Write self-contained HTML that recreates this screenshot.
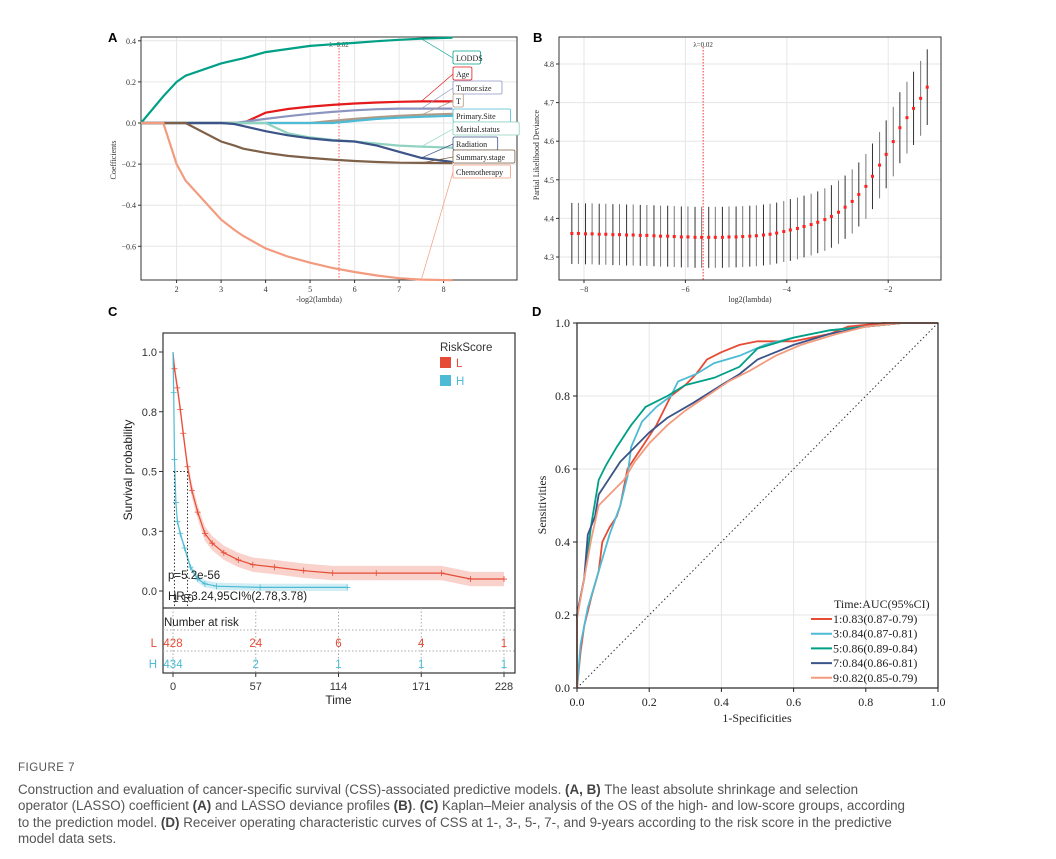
<!DOCTYPE html>
<html><head><meta charset="utf-8"><style>
body{margin:0;background:#fff;width:1056px;height:859px;overflow:hidden;font-family:"Liberation Sans",sans-serif}
#cap{position:absolute;left:18px;top:760px;color:#555;font-size:13.4px;line-height:16.2px}
#cap div{white-space:nowrap}
#cap b{color:#444}
</style></head><body>
<svg id="fig" width="1056" height="750" style="position:absolute;left:0;top:0" xmlns="http://www.w3.org/2000/svg"></svg>
<div id="cap">
<div style="font-size:11.5px;letter-spacing:0.5px;margin-bottom:6px">FIGURE 7</div>
<div>Construction and evaluation of cancer-specific survival (CSS)-associated predictive models. <b>(A, B)</b> The least absolute shrinkage and selection</div>
<div>operator (LASSO) coefficient <b>(A)</b> and LASSO deviance profiles <b>(B)</b>. <b>(C)</b> Kaplan–Meier analysis of the OS of the high- and low-score groups, according</div>
<div>to the prediction model. <b>(D)</b> Receiver operating characteristic curves of CSS at 1-, 3-, 5-, 7-, and 9-years according to the risk score in the predictive</div>
<div>model data sets.</div>
</div>
<script>
// ---- Panel A data ----
const lassoNames=["LODDS","Age","Tumor.size","T","Primary.Site","Marital.status","Radiation","Summary.stage","Chemotherapy"];
const lassoColors=["#00a087","#e41a1c","#8c95c0","#b09a86","#4dbbd5","#8fd3c0","#3c5488","#7e6148","#f39b7f"];
const lassoX=[1.2,1.7,2,2.2,3,3.3,3.5,4,4.5,5,5.5,6,6.5,7,7.5,8.2];
const lassoCoef=[
[0,0.13,0.2,0.23,0.29,0.305,0.315,0.345,0.36,0.375,0.383,0.39,0.398,0.405,0.41,0.415],
[0,0,0,0,0,0,0,0.05,0.068,0.08,0.088,0.095,0.1,0.103,0.105,0.105],
[0,0,0,0,0,0,0.006,0.02,0.033,0.045,0.054,0.062,0.067,0.07,0.07,0.07],
[0,0,0,0,0,0,0,0,0,0,0.01,0.02,0.028,0.035,0.04,0.045],
[0,0,0,0,0,0,0,0,0,0,0,0.01,0.02,0.026,0.03,0.035],
[0,0,0,0,0,0,0,0,-0.05,-0.07,-0.082,-0.09,-0.1,-0.11,-0.115,-0.12],
[0,0,0,0,0,-0.005,-0.015,-0.04,-0.06,-0.075,-0.085,-0.09,-0.11,-0.14,-0.17,-0.19],
[0,0,0,0,-0.09,-0.11,-0.125,-0.145,-0.16,-0.17,-0.178,-0.185,-0.19,-0.193,-0.194,-0.195],
[0,0,-0.2,-0.28,-0.47,-0.52,-0.55,-0.61,-0.65,-0.68,-0.705,-0.725,-0.742,-0.755,-0.762,-0.765]];
const lassoXTicks=[2,3,4,5,6,7,8];
const lassoYTicks=[0.4,0.2,0,-0.2,-0.4,-0.6];
// ---- Panel B data ----
const devLambda=[-8.24,-8.11,-7.97,-7.84,-7.70,-7.57,-7.43,-7.30,-7.16,-7.03,-6.89,-6.76,-6.62,-6.49,-6.35,-6.22,-6.08,-5.95,-5.81,-5.68,-5.54,-5.41,-5.27,-5.14,-5.00,-4.87,-4.73,-4.60,-4.46,-4.33,-4.20,-4.06,-3.93,-3.79,-3.66,-3.52,-3.39,-3.25,-3.12,-2.98,-2.85,-2.71,-2.58,-2.44,-2.31,-2.17,-2.04,-1.90,-1.77,-1.63,-1.50,-1.36,-1.23];
const devMean=[4.361,4.361,4.360,4.360,4.359,4.359,4.358,4.358,4.357,4.357,4.356,4.356,4.355,4.354,4.354,4.353,4.352,4.352,4.351,4.351,4.351,4.351,4.351,4.352,4.352,4.353,4.354,4.355,4.357,4.359,4.362,4.366,4.370,4.374,4.379,4.384,4.390,4.397,4.405,4.416,4.429,4.444,4.462,4.483,4.509,4.538,4.566,4.599,4.635,4.661,4.685,4.711,4.740];
const devSE=[0.079,0.079,0.079,0.079,0.079,0.079,0.079,0.079,0.079,0.079,0.079,0.079,0.079,0.079,0.079,0.079,0.079,0.079,0.079,0.079,0.079,0.079,0.079,0.079,0.079,0.079,0.079,0.079,0.079,0.079,0.079,0.079,0.08,0.08,0.08,0.08,0.08,0.081,0.081,0.082,0.082,0.083,0.083,0.084,0.085,0.086,0.088,0.09,0.092,0.093,0.095,0.097,0.098];
const devXTicks=[-8,-6,-4,-2];
const devYTicks=[4.3,4.4,4.5,4.6,4.7,4.8];
// ---- Panel C data ----
const kmLt=[0,1,3,5,7,10,13,17,22,27,35,45,55,70,90,110,140,185,205,228];
const kmLs=[1,0.93,0.85,0.76,0.66,0.52,0.42,0.33,0.24,0.2,0.16,0.13,0.11,0.1,0.085,0.075,0.075,0.075,0.05,0.05];
const kmHt=[0,0.5,1,2,3,5,8,12,17,22,30,60,120];
const kmHs=[1,0.83,0.55,0.37,0.29,0.24,0.18,0.1,0.05,0.03,0.02,0.015,0.015];
const kmXTicks=[0,57,114,171,228];
const kmYTicks=[0,0.25,0.5,0.75,1];
const kmYLabels=["0.0","0.3","0.5","0.8","1.0"];
const riskL=[428,24,6,4,1];
const riskH=[434,2,1,1,1];
// ---- Panel D data ----
const rocLabels=["1:0.83(0.87-0.79)","3:0.84(0.87-0.81)","5:0.86(0.89-0.84)","7:0.84(0.86-0.81)","9:0.82(0.85-0.79)"];
const rocColors=["#e64b35","#4dbbd5","#00a087","#3c5488","#f39b7f"];
const roc1=[[0,0],[0.01,0.1],[0.02,0.17],[0.04,0.25],[0.06,0.32],[0.07,0.4],[0.09,0.44],[0.11,0.47],[0.12,0.5],[0.14,0.6],[0.18,0.66],[0.22,0.72],[0.24,0.76],[0.26,0.8],[0.3,0.83],[0.33,0.86],[0.36,0.9],[0.4,0.92],[0.45,0.94],[0.5,0.95],[0.6,0.95],[0.7,0.97],[0.75,0.99],[0.85,1],[1,1]];
const roc3=[[0,0],[0.01,0.12],[0.03,0.22],[0.06,0.32],[0.09,0.42],[0.12,0.5],[0.14,0.58],[0.15,0.66],[0.18,0.73],[0.22,0.77],[0.26,0.8],[0.28,0.84],[0.33,0.86],[0.38,0.89],[0.45,0.91],[0.52,0.94],[0.6,0.96],[0.7,0.98],[0.8,0.99],[0.9,1],[1,1]];
const roc5=[[0,0],[0,0.2],[0.02,0.3],[0.04,0.45],[0.06,0.57],[0.08,0.61],[0.11,0.66],[0.15,0.72],[0.19,0.77],[0.25,0.8],[0.3,0.83],[0.38,0.85],[0.45,0.88],[0.5,0.93],[0.6,0.96],[0.7,0.98],[0.8,0.99],[0.9,1],[1,1]];
const roc7=[[0,0],[0,0.2],[0.02,0.3],[0.03,0.42],[0.05,0.47],[0.06,0.53],[0.08,0.56],[0.12,0.62],[0.16,0.66],[0.2,0.7],[0.25,0.74],[0.32,0.78],[0.4,0.83],[0.45,0.86],[0.5,0.9],[0.6,0.94],[0.7,0.97],[0.8,0.99],[0.9,1],[1,1]];
const roc9=[[0,0],[0,0.19],[0.02,0.3],[0.04,0.41],[0.06,0.5],[0.09,0.53],[0.13,0.57],[0.16,0.62],[0.2,0.67],[0.25,0.72],[0.3,0.76],[0.36,0.8],[0.42,0.84],[0.48,0.87],[0.55,0.91],[0.62,0.94],[0.72,0.97],[0.8,0.99],[0.9,1],[1,1]];
const rocTicks=[0,0.2,0.4,0.6,0.8,1];

const NS="http://www.w3.org/2000/svg";
const svg=document.getElementById('fig');
function el(tag,attrs,parent,text){const e=document.createElementNS(NS,tag);for(const k in attrs)e.setAttribute(k,attrs[k]);if(text!==undefined)e.textContent=text;(parent||svg).appendChild(e);return e;}
const SERIF='"Liberation Serif",serif', SANS='"Liberation Sans",sans-serif';

// ===== Panel A =====
(function(){
const g=el('g',{});


const x=v=>141+(v-1.2)*44.5, y=v=>123-v*205.5;
let t=el('text',{x:108,y:42,'font-size':13,'font-weight':'bold','font-family':SANS},g,'A');

lassoXTicks.forEach(v=>{el('line',{x1:x(v),x2:x(v),y1:37,y2:280,stroke:'#e6e6e6'},g);
 el('line',{x1:x(v),x2:x(v),y1:280,y2:283,stroke:'#333'},g);
 const tt=el('text',{x:x(v),y:292,'font-size':8,'text-anchor':'middle','font-family':SERIF,fill:'#333'},g,String(v));
 });
lassoYTicks.forEach(v=>{el('line',{x1:141,x2:517,y1:y(v),y2:y(v),stroke:'#e6e6e6'},g);
 el('line',{x1:138,x2:141,y1:y(v),y2:y(v),stroke:'#333'},g);
 const tt=el('text',{x:136,y:y(v)+3,'font-size':8,'text-anchor':'end','font-family':SERIF,fill:'#333'},g,(v<0?'−':'')+Math.abs(v).toFixed(1));
 });
el('rect',{x:141,y:37,width:376,height:243,fill:'none',stroke:'#333','stroke-width':1},g);
el('line',{x1:x(5.65),x2:x(5.65),y1:42,y2:280,stroke:'#f55','stroke-dasharray':'1.5,1.5'},g);
el('text',{x:x(5.65),y:47,'font-size':7,'text-anchor':'middle','font-family':SERIF,fill:'#333'},g,'λ=0.02');
const labelY=[58,74,88,101,116,129,144,157,172];
lassoCoef.forEach((arr,i)=>{
 const d=arr.map((v,j)=>(j?'L':'M')+x(lassoX[j]).toFixed(1)+','+y(v).toFixed(1)).join(' ');
 const p=el('path',{d:d,fill:'none',stroke:lassoColors[i],'stroke-width':2.2},g);
 
 
 el('line',{x1:x(7.5),y1:y(arr[14]),x2:453,y2:labelY[i],stroke:lassoColors[i],'stroke-width':0.7},g);
 const w=lassoNames[i].length*4.3+6;
 el('rect',{x:453,y:labelY[i]-7,width:w,height:13,rx:1.5,fill:'#fff',stroke:lassoColors[i],'stroke-width':0.8},g);
 const lt=el('text',{x:456,y:labelY[i]+3,'font-size':8,'font-family':SERIF,fill:'#222'},g,lassoNames[i]);
 
});
el('text',{x:x(5.2),y:302,'font-size':8,'text-anchor':'middle','font-family':SERIF,fill:'#333'},g,'-log2(lambda)');
el('text',{x:116,y:160,'font-size':8,'text-anchor':'middle','font-family':SERIF,fill:'#333',transform:'rotate(-90 116 160)'},g,'Coefficients');
})();

// ===== Panel B =====
(function(){
const g=el('g',{});


const x=v=>584+(v+8)*50.7, y=v=>257-(v-4.3)*386;
el('text',{x:533,y:42,'font-size':13,'font-weight':'bold','font-family':SANS},g,'B');
devXTicks.forEach(v=>{el('line',{x1:x(v),x2:x(v),y1:37,y2:280,stroke:'#e6e6e6'},g);
 el('line',{x1:x(v),x2:x(v),y1:280,y2:283,stroke:'#333'},g);
 el('text',{x:x(v),y:292,'font-size':8,'text-anchor':'middle','font-family':SERIF,fill:'#333'},g,'−'+Math.abs(v));});
devYTicks.forEach(v=>{el('line',{x1:559,x2:941,y1:y(v),y2:y(v),stroke:'#e6e6e6'},g);
 el('line',{x1:556,x2:559,y1:y(v),y2:y(v),stroke:'#333'},g);
 el('text',{x:554,y:y(v)+3,'font-size':8,'text-anchor':'end','font-family':SERIF,fill:'#333'},g,v.toFixed(1));});
el('rect',{x:559,y:37,width:382,height:243,fill:'none',stroke:'#333'},g);
el('line',{x1:x(-5.65),x2:x(-5.65),y1:47,y2:280,stroke:'#f33','stroke-dasharray':'1.5,1.5'},g);
el('text',{x:x(-5.65),y:47,'font-size':7,'text-anchor':'middle','font-family':SERIF,fill:'#333'},g,'λ=0.02');
devLambda.forEach((l,i)=>{
 const b=el('line',{x1:x(l),x2:x(l),y1:y(devMean[i]+devSE[i]),y2:y(devMean[i]-devSE[i]),stroke:i%2?'#777':'#333','stroke-width':1},g);
 
 const c=el('rect',{x:x(l)-1.5,y:y(devMean[i])-1.5,width:3,height:3,fill:'#f22'},g);
 
});
el('text',{x:750,y:302,'font-size':8,'text-anchor':'middle','font-family':SERIF,fill:'#333'},g,'log2(lambda)');
el('text',{x:539,y:155,'font-size':8,'text-anchor':'middle','font-family':SERIF,fill:'#333',transform:'rotate(-90 539 155)'},g,'Partial Likelihood Deviance');
})();

// ===== Panel C =====
(function(){
const g=el('g',{});


const x=v=>173+v*(331/228), y=v=>591-v*239;
el('text',{x:108,y:316,'font-size':13,'font-weight':'bold','font-family':SANS},g,'C');
el('rect',{x:163,y:333,width:352,height:340,fill:'none',stroke:'#333','stroke-width':1.2},g);
el('line',{x1:163,x2:515,y1:608,y2:608,stroke:'#333','stroke-width':1.2},g);
kmYTicks.forEach((v,i)=>{el('line',{x1:159,x2:163,y1:y(v),y2:y(v),stroke:'#333'},g);
 el('text',{x:157,y:y(v)+4,'font-size':11,'text-anchor':'end','font-family':SANS,fill:'#333'},g,kmYLabels[i]);});
kmXTicks.forEach(v=>{el('line',{x1:x(v),x2:x(v),y1:673,y2:677,stroke:'#333'},g);
 el('line',{x1:x(v),x2:x(v),y1:608,y2:673,stroke:'#aaa','stroke-dasharray':'1.5,2'},g);
 el('text',{x:x(v),y:690,'font-size':11,'text-anchor':'middle','font-family':SANS,fill:'#333'},g,String(v));});
function line(t,s){return t.map((v,i)=>(i?'L':'M')+x(v).toFixed(1)+','+y(s[i]).toFixed(1)).join(' ');}
function band(t,s,w,color,name){
 const up=t.map((v,i)=>x(v).toFixed(1)+','+y(Math.min(1,s[i]+w)).toFixed(1));
 const lo=t.map((v,i)=>x(v).toFixed(1)+','+y(Math.max(0,s[i]-w)).toFixed(1)).reverse();
 const p=el('polygon',{points:up.concat(lo).join(' '),fill:color,opacity:0.25},g);
 }
band(kmLt,kmLs,0.03,'#e64b35','ci-band-l');
band(kmHt,kmHs,0.015,'#4dbbd5','ci-band-h');
let p=el('path',{d:line(kmLt,kmLs),fill:'none',stroke:'#e64b35','stroke-width':1.2},g);

p=el('path',{d:line(kmHt,kmHs),fill:'none',stroke:'#4dbbd5','stroke-width':1.2},g);

kmLt.forEach((t,i)=>{if(i>0)el('path',{d:`M${x(t)-3},${y(kmLs[i])}h6M${x(t)},${y(kmLs[i])-3}v6`,stroke:'#e64b35','stroke-width':0.8},g);});
kmHt.forEach((t,i)=>{if(i>0)el('path',{d:`M${x(t)-3},${y(kmHs[i])}h6M${x(t)},${y(kmHs[i])-3}v6`,stroke:'#4dbbd5','stroke-width':0.8},g);});
el('path',{d:`M${x(0)},${y(0.5)}H${x(10)}M${x(1)},${y(0.5)}V608M${x(10)},${y(0.5)}V608`,stroke:'#333','stroke-dasharray':'1.5,2',fill:'none'},g);
el('text',{x:x(1)-2,y:602,'font-size':11,'font-family':SANS,fill:'#333'},g,'1');
el('text',{x:x(10)-6,y:602,'font-size':11,'font-family':SANS,fill:'#333'},g,'10');
el('text',{x:168,y:579,'font-size':11.5,'font-family':SANS,fill:'#222'},g,'p=5.2e-56');
el('text',{x:168,y:600,'font-size':11.5,'font-family':SANS,fill:'#222'},g,'HR=3.24,95CI%(2.78,3.78)');
const lg=el('g',{},g);
el('text',{x:440,y:351,'font-size':11.5,'font-family':SANS,fill:'#333'},lg,'RiskScore');
el('rect',{x:440,y:357,width:11,height:11,fill:'#e64b35'},lg);
el('text',{x:456,y:367,'font-size':11.5,'font-family':SANS,fill:'#e64b35'},lg,'L');
el('rect',{x:440,y:375,width:11,height:11,fill:'#4dbbd5'},lg);
el('text',{x:456,y:385,'font-size':11.5,'font-family':SANS,fill:'#4dbbd5'},lg,'H');
el('text',{x:164,y:626,'font-size':11.5,'font-family':SANS,fill:'#222'},g,'Number at risk');
el('line',{x1:163,x2:515,y1:630,y2:630,stroke:'#aaa','stroke-dasharray':'1.5,2'},g);
el('line',{x1:163,x2:515,y1:651,y2:651,stroke:'#aaa','stroke-dasharray':'1.5,2'},g);
el('text',{x:157,y:647,'font-size':11.5,'text-anchor':'end','font-family':SANS,fill:'#e64b35'},g,'L');
el('text',{x:157,y:668,'font-size':11.5,'text-anchor':'end','font-family':SANS,fill:'#4dbbd5'},g,'H');
kmXTicks.forEach((v,i)=>{
 const a=el('text',{x:x(v),y:647,'font-size':11.5,'text-anchor':'middle','font-family':SANS,fill:'#e64b35'},g,String(riskL[i]));
 
 const b=el('text',{x:x(v),y:668,'font-size':11.5,'text-anchor':'middle','font-family':SANS,fill:'#4dbbd5'},g,String(riskH[i]));
 });
el('text',{x:x(114),y:704,'font-size':12,'text-anchor':'middle','font-family':SANS,fill:'#222'},g,'Time');
el('text',{x:132,y:470,'font-size':12,'text-anchor':'middle','font-family':SANS,fill:'#222',transform:'rotate(-90 132 470)'},g,'Survival probability');
})();

// ===== Panel D =====
(function(){
const g=el('g',{});


const x=v=>577+v*361, y=v=>688-v*365;
el('text',{x:532,y:316,'font-size':13,'font-weight':'bold','font-family':SANS},g,'D');
rocTicks.forEach(v=>{
 el('line',{x1:x(v),x2:x(v),y1:323,y2:688,stroke:'#e6e6e6'},g);
 el('line',{x1:577,x2:938,y1:y(v),y2:y(v),stroke:'#e6e6e6'},g);
 el('line',{x1:x(v),x2:x(v),y1:688,y2:692,stroke:'#222'},g);
 el('line',{x1:573,x2:577,y1:y(v),y2:y(v),stroke:'#222'},g);
 el('text',{x:x(v),y:706,'font-size':12,'text-anchor':'middle','font-family':SERIF,fill:'#222'},g,v.toFixed(1));
 el('text',{x:570,y:y(v)+4,'font-size':12,'text-anchor':'end','font-family':SERIF,fill:'#222'},g,v.toFixed(1));});
el('line',{x1:x(0),y1:y(0),x2:x(1),y2:y(1),stroke:'#333','stroke-dasharray':'1.5,2.5'},g);
[roc1,roc3,roc5,roc7,roc9].forEach((arr,i)=>{
 const p=el('polyline',{points:arr.map(pt=>x(pt[0]).toFixed(1)+','+y(pt[1]).toFixed(1)).join(' '),fill:'none',stroke:rocColors[i],'stroke-width':1.8},g);
 });
el('rect',{x:577,y:323,width:361,height:365,fill:'none',stroke:'#222','stroke-width':1.2},g);
const lg=el('g',{},g);
el('text',{x:834,y:608,'font-size':12,'font-family':SERIF,fill:'#222'},lg,'Time:AUC(95%CI)');
rocLabels.forEach((s,i)=>{const yy=623+i*14.7;
 el('line',{x1:811,x2:832,y1:yy-4,y2:yy-4,stroke:rocColors[i],'stroke-width':2},lg);
 el('text',{x:833,y:yy,'font-size':12,'font-family':SERIF,fill:'#222'},lg,s);});
el('text',{x:757,y:722,'font-size':12,'text-anchor':'middle','font-family':SERIF,fill:'#222'},g,'1-Specificities');
el('text',{x:546,y:505,'font-size':12,'text-anchor':'middle','font-family':SERIF,fill:'#222',transform:'rotate(-90 546 505)'},g,'Sensitivities');
})();
</script>
</body></html>
